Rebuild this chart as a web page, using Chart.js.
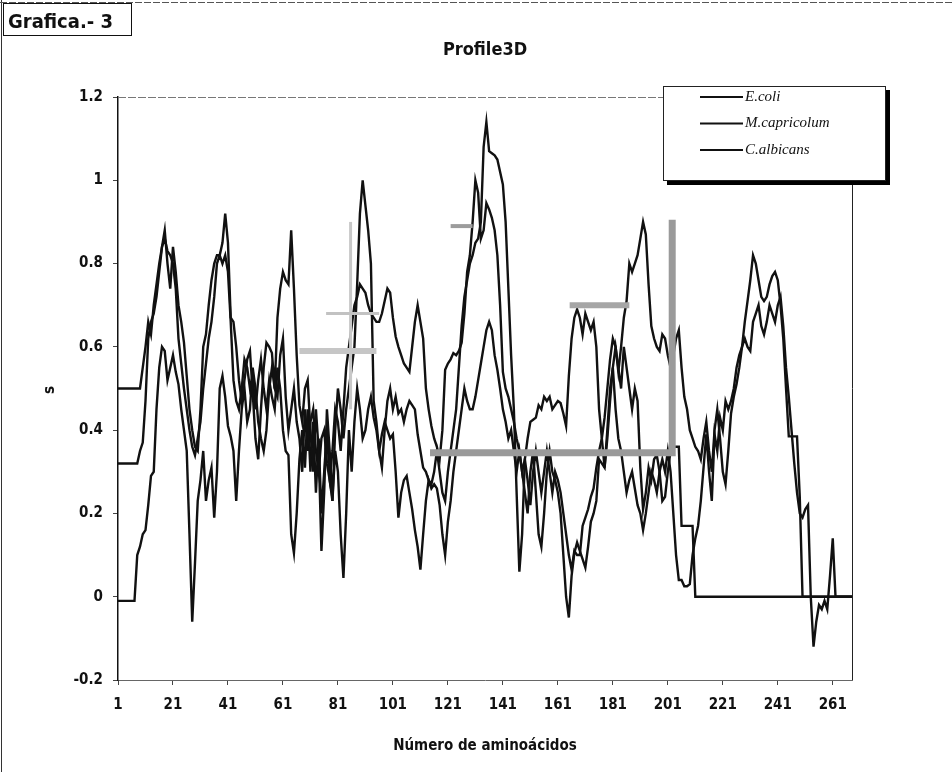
<!DOCTYPE html>
<html>
<head>
<meta charset="utf-8">
<title>Profile3D</title>
<script src="https://cdn.jsdelivr.net/npm/chart.js@4.4.1/dist/chart.umd.min.js"></script>
<style>
  html, body { margin: 0; padding: 0; background: #fff; }
  #wrap { width: 952px; height: 772px; position: relative; }
</style>
</head>
<body>
<div id="wrap"><canvas id="chart" width="952" height="772"></canvas></div>
<script>
// residue numbers along the x axis (categories)
const residues = Array.from({ length: 268 }, (_, i) => i + 1);
const xTicks = [1, 21, 41, 61, 81, 101, 121, 141, 161, 181, 201, 221, 241, 261];

// s values, one per residue
const ecoli = [
  0.5, 0.5, 0.5, 0.5, 0.5, 0.5, 0.5, 0.5, 0.5, 0.55,
  0.6, 0.66, 0.63, 0.7, 0.75, 0.8, 0.84, 0.88, 0.8, 0.74,
  0.84, 0.78, 0.7, 0.66, 0.61, 0.53, 0.45, 0.4, 0.36, 0.35,
  0.45, 0.6, 0.63, 0.7, 0.76, 0.8, 0.82, 0.82, 0.85, 0.92,
  0.85, 0.67, 0.66, 0.6, 0.52, 0.47, 0.52, 0.57, 0.59, 0.49,
  0.38, 0.33, 0.45, 0.55, 0.61, 0.6, 0.585, 0.5, 0.67, 0.74,
  0.78, 0.76, 0.75, 0.88, 0.74, 0.58, 0.46, 0.42, 0.5, 0.52,
  0.4, 0.3, 0.45, 0.35, 0.11, 0.25, 0.45, 0.35, 0.23, 0.4,
  0.5, 0.45, 0.38, 0.45, 0.5, 0.55, 0.6, 0.75, 0.92, 1.0,
  0.94, 0.88, 0.8, 0.47, 0.42, 0.35, 0.31, 0.4, 0.47, 0.5,
  0.45, 0.48, 0.44, 0.45, 0.42, 0.45, 0.47, 0.46, 0.45, 0.39,
  0.35, 0.31, 0.3, 0.28, 0.27, 0.3, 0.35, 0.3, 0.25, 0.23,
  0.3, 0.35, 0.4, 0.45, 0.55, 0.65, 0.72, 0.76, 0.8, 0.82,
  0.85, 0.86, 0.9, 1.08, 1.14, 1.07, 1.065, 1.06, 1.05, 1.02,
  0.99, 0.9, 0.74, 0.58, 0.45, 0.25, 0.06, 0.15, 0.33, 0.38,
  0.42, 0.425, 0.43, 0.46, 0.45, 0.48, 0.47, 0.48, 0.45, 0.46,
  0.47, 0.465, 0.44, 0.41, 0.53, 0.62, 0.67, 0.69, 0.67, 0.63,
  0.68, 0.66, 0.64, 0.66, 0.6, 0.45, 0.38, 0.31, 0.38, 0.47,
  0.55, 0.6, 0.55, 0.5, 0.6, 0.55, 0.5, 0.45, 0.5, 0.47,
  0.31, 0.21, 0.25, 0.31, 0.28, 0.33, 0.34, 0.3, 0.23, 0.24,
  0.3, 0.35, 0.36, 0.36, 0.36, 0.17, 0.17, 0.17, 0.17, 0.17,
  0, 0, 0, 0, 0, 0, 0, 0, 0, 0,
  0, 0, 0, 0, 0, 0, 0, 0, 0, 0,
  0, 0, 0, 0, 0, 0, 0, 0, 0, 0,
  0, 0, 0, 0, 0, 0, 0, 0, 0, 0,
  0, 0, 0, 0, 0, 0, 0, 0, 0, 0,
  0, 0, 0, 0, 0, 0, 0, 0
];

const mcapricolum = [
  0.32, 0.32, 0.32, 0.32, 0.32, 0.32, 0.32, 0.32, 0.35, 0.37,
  0.47, 0.62, 0.66, 0.68, 0.72, 0.78, 0.84, 0.86, 0.83, 0.82,
  0.8, 0.74, 0.62, 0.56, 0.5, 0.45, 0.4, 0.36, 0.34, 0.38,
  0.42, 0.5, 0.56, 0.62, 0.66, 0.72, 0.8, 0.82, 0.8, 0.82,
  0.78, 0.66, 0.52, 0.47, 0.45, 0.5, 0.57, 0.55, 0.5, 0.53,
  0.45, 0.52, 0.57, 0.5, 0.45, 0.52, 0.48, 0.45, 0.55, 0.5,
  0.4, 0.35, 0.34, 0.15, 0.105, 0.2, 0.33, 0.4, 0.31, 0.45,
  0.3, 0.42, 0.25, 0.38, 0.2, 0.3, 0.4, 0.28, 0.23, 0.35,
  0.3, 0.15, 0.045, 0.2, 0.4, 0.3, 0.42, 0.5, 0.45, 0.38,
  0.4, 0.45, 0.48, 0.43, 0.4, 0.35, 0.39, 0.42, 0.4, 0.38,
  0.39, 0.3, 0.19, 0.25, 0.28, 0.29, 0.25, 0.21, 0.16, 0.12,
  0.065, 0.15, 0.23, 0.28, 0.26, 0.27, 0.26, 0.22, 0.15, 0.1,
  0.18, 0.23, 0.3, 0.35, 0.4, 0.45, 0.5, 0.47, 0.45, 0.45,
  0.48, 0.52, 0.56, 0.6, 0.64, 0.66, 0.64, 0.58, 0.545, 0.5,
  0.45, 0.42, 0.38, 0.4, 0.35, 0.3, 0.35, 0.3, 0.25, 0.2,
  0.3, 0.35, 0.25, 0.15, 0.12, 0.2, 0.3, 0.35, 0.3, 0.28,
  0.25, 0.2, 0.1, 0.0, -0.05, 0.05, 0.105, 0.13, 0.11, 0.09,
  0.07, 0.12, 0.18, 0.2, 0.23, 0.33, 0.32, 0.31, 0.4, 0.5,
  0.55, 0.45, 0.38, 0.35, 0.3, 0.25, 0.28, 0.3, 0.26, 0.22,
  0.2, 0.16, 0.2, 0.25, 0.3, 0.28, 0.25, 0.3, 0.33, 0.3,
  0.35, 0.3, 0.2, 0.1, 0.04, 0.04, 0.025, 0.025, 0.03, 0.1,
  0.14, 0.17, 0.23, 0.31, 0.39, 0.3, 0.23, 0.39, 0.35, 0.43,
  0.4, 0.47, 0.45, 0.47, 0.5, 0.55, 0.58, 0.6, 0.62, 0.6,
  0.59, 0.66, 0.68, 0.7, 0.65, 0.63, 0.66, 0.7, 0.68, 0.66,
  0.7, 0.72, 0.65, 0.55, 0.48, 0.4, 0.32, 0.25, 0.2, 0.19,
  0.21, 0.22, 0.0, -0.12, -0.06, -0.02, -0.03, -0.01, -0.03, 0.05,
  0.14, 0, 0, 0, 0, 0, 0, 0
];

const calbicans = [
  -0.01, -0.01, -0.01, -0.01, -0.01, -0.01, -0.01, 0.1, 0.12, 0.15,
  0.16, 0.22, 0.29, 0.3, 0.45, 0.55, 0.6, 0.59, 0.52, 0.55,
  0.58, 0.54, 0.51, 0.45, 0.4, 0.35, 0.15, -0.06, 0.08, 0.23,
  0.28, 0.35, 0.23, 0.28, 0.31, 0.19, 0.3, 0.5, 0.53, 0.48,
  0.41, 0.385, 0.35, 0.23, 0.35, 0.45, 0.5, 0.42, 0.45, 0.55,
  0.5, 0.42, 0.38, 0.35, 0.4, 0.5, 0.55, 0.5, 0.48, 0.58,
  0.62, 0.48, 0.4, 0.45, 0.5, 0.42, 0.38, 0.3, 0.45, 0.35,
  0.42, 0.45, 0.35, 0.3, 0.38, 0.4, 0.32, 0.28, 0.35, 0.45,
  0.42, 0.35, 0.45, 0.55, 0.6, 0.65, 0.7, 0.72, 0.75, 0.74,
  0.73, 0.7, 0.68, 0.67, 0.66, 0.66, 0.68, 0.71, 0.74, 0.73,
  0.67, 0.625, 0.6, 0.58, 0.56, 0.55, 0.54, 0.6, 0.66, 0.7,
  0.66, 0.62, 0.5, 0.45, 0.41, 0.38, 0.36, 0.33, 0.4, 0.545,
  0.56, 0.57, 0.585, 0.58, 0.59, 0.61, 0.68, 0.78, 0.82, 0.9,
  1.0, 0.97, 0.86, 0.88, 0.945, 0.93, 0.91, 0.88, 0.82, 0.7,
  0.54, 0.5, 0.48, 0.45, 0.42, 0.38, 0.35, 0.3, 0.33, 0.28,
  0.22, 0.3, 0.35, 0.3, 0.25, 0.3, 0.35, 0.3, 0.25, 0.3,
  0.28, 0.25, 0.2, 0.15, 0.1, 0.065, 0.11, 0.1, 0.1, 0.17,
  0.19, 0.21, 0.24, 0.26, 0.31, 0.35, 0.38, 0.43, 0.5, 0.57,
  0.62, 0.6, 0.54, 0.6, 0.67, 0.71, 0.8, 0.78, 0.8, 0.82,
  0.86, 0.9, 0.87, 0.75, 0.65, 0.62, 0.6, 0.59, 0.63, 0.62,
  0.58, 0.55, 0.58, 0.62, 0.64, 0.55, 0.48, 0.45, 0.4, 0.38,
  0.36, 0.35, 0.33, 0.38, 0.42, 0.35, 0.3, 0.4, 0.45, 0.38,
  0.3, 0.27, 0.35, 0.44, 0.48, 0.51, 0.55, 0.6, 0.66, 0.71,
  0.76, 0.82, 0.8, 0.76, 0.72, 0.71, 0.72, 0.75, 0.77, 0.78,
  0.76, 0.7, 0.62, 0.5, 0.385, 0.385, 0.385, 0.385, 0.24, 0,
  0, 0, 0, 0, 0, 0, 0, 0, 0, 0,
  0, 0, 0, 0, 0, 0, 0, 0
];

// grey marker strokes left on the scanned page: [x, y] vertices in data units
const greyBarL = [[114.5, 0.346], [202.6, 0.346], [202.6, 0.905]];
const greyBar59 = [[67, 0.59], [95, 0.59]];
const greyBar68 = [[76.7, 0.68], [96, 0.68]];
const greyBar70 = [[165.3, 0.70], [187, 0.70]];
const greyBar89 = [[122, 0.89], [130, 0.89]];
const greyStem86 = [[85.6, 0.45], [85.6, 0.9]];

const speciesNames = ['E.coli', 'M.capricolum', 'C.albicans'];
const narrow = "'Liberation Sans Narrow', 'Arial Narrow', 'DejaVu Sans Condensed', sans-serif";

function series(label, values) {
  return {
    label: label,
    data: residues.map((r, i) => ({ x: r, y: values[i] })),
    borderColor: '#111',
    borderWidth: 2.4,
    pointRadius: 0,
    tension: 0,
    fill: false
  };
}

function mark(points, color, width) {
  return {
    label: '',
    data: points.map(p => ({ x: p[0], y: p[1] })),
    borderColor: color,
    borderWidth: width,
    borderCapStyle: 'butt',
    pointRadius: 0,
    tension: 0,
    fill: false,
    order: -1
  };
}

const decor = {
  id: 'decor',
  beforeDraw(chart) {
    const ctx = chart.ctx;
    ctx.save();
    ctx.fillStyle = '#fff';
    ctx.fillRect(0, 0, chart.width, chart.height);
    // page frame
    ctx.strokeStyle = '#333';
    ctx.lineWidth = 1;
    ctx.beginPath();
    ctx.moveTo(1.5, 0); ctx.lineTo(1.5, chart.height);
    ctx.stroke();
    ctx.setLineDash([7, 2]);
    ctx.strokeStyle = '#555';
    ctx.beginPath();
    ctx.moveTo(0, 2.5); ctx.lineTo(chart.width, 2.5);
    ctx.stroke();
    ctx.setLineDash([]);
    // "Grafica.- 3" tag
    ctx.strokeStyle = '#111';
    ctx.strokeRect(3.5, 3.5, 128, 32);
    ctx.fillStyle = '#111';
    ctx.font = "bold 20px " + narrow;
    ctx.textBaseline = 'alphabetic';
    ctx.fillText('Grafica.- 3', 8, 28);
    ctx.restore();
  },
  afterDraw(chart) {
    const ctx = chart.ctx;
    const a = chart.chartArea;
    ctx.save();
    // plot frame: top dashed grey, right thin black
    ctx.strokeStyle = '#777';
    ctx.lineWidth = 1;
    ctx.setLineDash([8, 2]);
    ctx.beginPath();
    ctx.moveTo(a.left, a.top + 0.5); ctx.lineTo(a.right, a.top + 0.5);
    ctx.stroke();
    ctx.setLineDash([]);
    ctx.strokeStyle = '#222';
    ctx.beginPath();
    ctx.moveTo(a.right + 0.5, a.top); ctx.lineTo(a.right + 0.5, a.bottom);
    ctx.stroke();

    // titles
    ctx.fillStyle = '#111';
    ctx.textAlign = 'center';
    ctx.textBaseline = 'middle';
    ctx.font = "bold 18px " + narrow;
    ctx.fillText('Profile3D', (a.left + a.right) / 2, 50);
    ctx.font = "bold 15px " + narrow;
    ctx.fillText('Número de aminoácidos', (a.left + a.right) / 2, 746);
    ctx.save();
    ctx.translate(50, 390);
    ctx.rotate(-Math.PI / 2);
    ctx.fillText('s', 0, 0);
    ctx.restore();

    // legend with heavy drop shadow
    const lx = 663, ly = 86, lw = 222, lh = 94;
    ctx.fillStyle = '#000';
    ctx.fillRect(lx + 4, ly + lh, lw + 1, 5);
    ctx.fillRect(lx + lw, ly + 4, 5, lh + 1);
    ctx.fillStyle = '#fff';
    ctx.fillRect(lx, ly, lw, lh);
    ctx.strokeStyle = '#222';
    ctx.lineWidth = 1;
    ctx.strokeRect(lx + 0.5, ly + 0.5, lw, lh);
    ctx.font = "italic 15px 'Liberation Serif', 'Times New Roman', serif";
    ctx.textAlign = 'left';
    speciesNames.forEach((name, i) => {
      const y = 97 + i * 26.5;
      ctx.strokeStyle = '#111';
      ctx.lineWidth = 2;
      ctx.beginPath();
      ctx.moveTo(700, y); ctx.lineTo(743, y);
      ctx.stroke();
      ctx.fillStyle = '#111';
      ctx.fillText(name, 745, y);
    });
    ctx.restore();
  }
};

const tickFont = { family: narrow, size: 15, weight: 'bold' };

new Chart(document.getElementById('chart'), {
  type: 'line',
  data: {
    datasets: [
      series(speciesNames[0], ecoli),
      series(speciesNames[1], mcapricolum),
      series(speciesNames[2], calbicans),
      mark(greyBarL, '#9a9a9a', 7),
      mark(greyBar59, '#c6c6c6', 6),
      mark(greyBar68, '#c2c2c2', 3),
      mark(greyBar70, '#a6a6a6', 6),
      mark(greyBar89, '#9c9c9c', 4),
      mark(greyStem86, '#c8c8c8', 3)
    ]
  },
  options: {
    responsive: false,
    animation: false,
    devicePixelRatio: 1,
    layout: { padding: { left: 0, right: 100, top: 97, bottom: 0 } },
    plugins: {
      legend: { display: false },
      title: { display: false },
      tooltip: { enabled: false }
    },
    scales: {
      x: {
        type: 'linear',
        min: 1,
        max: 268,
        afterBuildTicks: s => { s.ticks = xTicks.map(v => ({ value: v })); },
        afterFit: s => { s.height = 92; },
        ticks: { font: tickFont, color: '#111', padding: 11, maxRotation: 0, callback: v => String(v) },
        grid: { drawOnChartArea: false, drawTicks: true, tickLength: 5, color: '#444' },
        border: { color: '#666', width: 1 }
      },
      y: {
        min: -0.2,
        max: 1.2,
        afterFit: s => { s.width = 118; },
        ticks: {
          stepSize: 0.2,
          font: tickFont,
          color: '#111',
          padding: 10,
          callback: v => String(Math.round(v * 10) / 10)
        },
        grid: { drawOnChartArea: false, drawTicks: true, tickLength: 5, color: '#444' },
        border: { color: '#111', width: 1.5 }
      }
    }
  },
  plugins: [decor]
});
</script>
</body>
</html>
